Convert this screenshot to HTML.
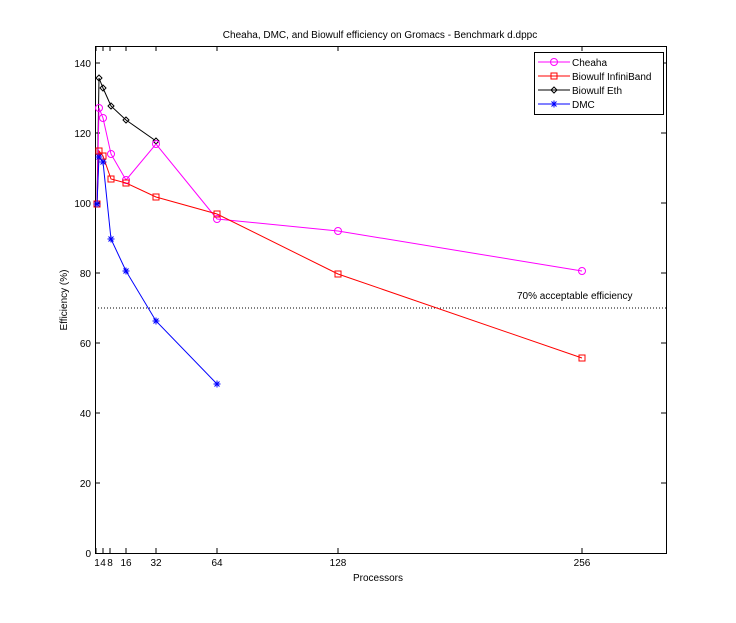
<html><body style="margin:0;background:#fff">
<svg width="736" height="623" xmlns="http://www.w3.org/2000/svg" font-family="Liberation Sans, sans-serif" font-size="10">
<defs><path id="ast" d="M-3.5 0h7M0-3.5v7M-2.5-2.5l5 5M-2.5 2.5l5-5" stroke="#00f" fill="none"/></defs>
<rect width="736" height="623" fill="#fff"/>
<rect x="95.5" y="46.5" width="571" height="507" fill="#fff" stroke="#000"/>
<g stroke="#000">
<path d="M96 553v-5M96 46v5M103 553v-5M103 46v5M110 553v-5M110 46v5M126 553v-5M126 46v5M156 553v-5M156 46v5M217 553v-5M217 46v5M338 553v-5M338 46v5M582 553v-5M582 46v5"/>
<path d="M95 483h5M666 483h-5M95 413h5M666 413h-5M95 343h5M666 343h-5M95 273h5M666 273h-5M95 203h5M666 203h-5M95 133h5M666 133h-5M95 63h5M666 63h-5"/>
</g>
<g text-anchor="end">
<text x="91" y="557">0</text><text x="91" y="487">20</text><text x="91" y="417">40</text><text x="91" y="347">60</text><text x="91" y="277">80</text><text x="91" y="207">100</text><text x="91" y="137">120</text><text x="91" y="67">140</text>
</g>
<g text-anchor="middle">
<text x="97" y="566">1</text><text x="103" y="566">4</text><text x="110" y="566">8</text><text x="126" y="566">16</text><text x="156" y="566">32</text><text x="217" y="566">64</text><text x="338" y="566">128</text><text x="582" y="566">256</text>
<text x="378" y="581">Processors</text>
<text x="380" y="38">Cheaha, DMC, and Biowulf efficiency on Gromacs - Benchmark d.dppc</text>
<text transform="translate(67,300) rotate(-90)">Efficiency (%)</text>
</g>
<line x1="95" y1="308" x2="666" y2="308" stroke="#000" stroke-dasharray="1,2"/>
<text x="517" y="299">70% acceptable efficiency</text>
<g fill="none">
<polyline stroke="#000" points="97,204 99,78 103,88 111,106 126,120 156,141"/>
<g stroke="#000"><path d="M99 75l3 3-3 3-3-3zM103 85l3 3-3 3-3-3zM111 103l3 3-3 3-3-3zM126 117l3 3-3 3-3-3zM156 138l3 3-3 3-3-3z"/></g>
<polyline stroke="#f0f" points="97,204 99,108 103,118 111,154 126,180 156,144 217,219 338,231 582,271"/>
<g stroke="#f0f"><circle cx="99" cy="108" r="3.5"/><circle cx="103" cy="118" r="3.5"/><circle cx="111" cy="154" r="3.5"/><circle cx="126" cy="180" r="3.5"/><circle cx="156" cy="144" r="3.5"/><circle cx="217" cy="219" r="3.5"/><circle cx="338" cy="231" r="3.5"/><circle cx="582" cy="271" r="3.5"/></g>
<polyline stroke="#f00" points="97,204 99,151 103,156 111,179 126,183 156,197 217,214 338,274 582,358"/>
<g stroke="#f00"><rect x="96" y="148" width="6" height="6"/><rect x="100" y="153" width="6" height="6"/><rect x="108" y="176" width="6" height="6"/><rect x="123" y="180" width="6" height="6"/><rect x="153" y="194" width="6" height="6"/><rect x="214" y="211" width="6" height="6"/><rect x="335" y="271" width="6" height="6"/><rect x="579" y="355" width="6" height="6"/><rect x="94" y="201" width="6" height="6"/></g>
<polyline stroke="#00f" points="97,204 99,157 103,162 111,239 126,271 156,321 217,384"/>
</g>
<use href="#ast" x="97" y="204"/><use href="#ast" x="99" y="157"/><use href="#ast" x="103" y="162"/><use href="#ast" x="111" y="239"/><use href="#ast" x="126" y="271"/><use href="#ast" x="156" y="321"/><use href="#ast" x="217" y="384"/>
<rect x="534.5" y="52.5" width="129" height="62" fill="#fff" stroke="#000"/>
<g fill="none">
<line x1="538" y1="62" x2="570" y2="62" stroke="#f0f"/><circle cx="554" cy="62" r="3.5" stroke="#f0f"/>
<line x1="538" y1="76" x2="570" y2="76" stroke="#f00"/><rect x="551" y="73" width="6" height="6" stroke="#f00"/>
<line x1="538" y1="90" x2="570" y2="90" stroke="#000"/><path d="M554 87l3 3-3 3-3-3z" stroke="#000"/>
<line x1="538" y1="104" x2="570" y2="104" stroke="#00f"/>
</g>
<use href="#ast" x="554" y="104"/>
<text x="572" y="66">Cheaha</text><text x="572" y="80">Biowulf InfiniBand</text><text x="572" y="94">Biowulf Eth</text><text x="572" y="108">DMC</text>
</svg>
</body></html>
